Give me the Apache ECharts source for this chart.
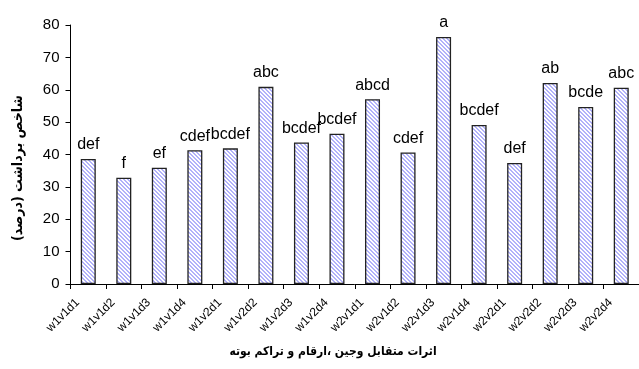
<!DOCTYPE html>
<html>
<head>
<meta charset="utf-8">
<script src="https://cdn.jsdelivr.net/npm/echarts@6/dist/echarts.min.js"></script>
<style>
  html, body { margin: 0; padding: 0; background: #fff; }
  #chart { width: 639px; height: 369px; }
</style>
</head>
<body>
<div id="chart"></div>
<script>
// Treatment combinations (weeding x cultivar x density)
const categories = [
  'w1v1d1', 'w1v1d2', 'w1v1d3', 'w1v1d4',
  'w1v2d1', 'w1v2d2', 'w1v2d3', 'w1v2d4',
  'w2v1d1', 'w2v1d2', 'w2v1d3', 'w2v1d4',
  'w2v2d1', 'w2v2d2', 'w2v2d3', 'w2v2d4'
];
// Harvest index (%)
const harvestIndex = [
  38.6, 32.8, 35.9, 41.3,
  41.9, 60.9, 43.7, 46.4,
  57.1, 40.6, 76.3, 49.1,
  37.4, 62.1, 54.7, 60.6
];
// Mean-separation letters shown above each bar
const letters = [
  'def', 'f', 'ef', 'cdef',
  'bcdef', 'abc', 'bcdef', 'bcdef',
  'abcd', 'cdef', 'a', 'bcdef',
  'def', 'ab', 'bcde', 'abc'
];
const yTicks = { min: 0, max: 80, interval: 10 };

const yTitle = 'شاخص برداشت (درصد)\u200F';
const xTitle = 'اثرات متقابل وجين ،ارقام و تراكم بوته';

// Diagonal hatch fill for the bars
function makeHatch() {
  const c = document.createElement('canvas');
  c.width = 4; c.height = 4;
  const g = c.getContext('2d');
  g.fillStyle = '#ffffff';
  g.fillRect(0, 0, 4, 4);
  g.fillStyle = '#b2b2fa';
  for (let i = 0; i < 4; i++) {
    g.fillRect(i, i, 1, 1);
    g.fillRect((i + 1) % 4, i, 1, 1);
  }
  return c;
}

const chart = echarts.init(document.getElementById('chart'), null, { renderer: 'canvas' });
const font = 'Liberation Sans, Arial, sans-serif';
const titleFont = '"DejaVu Sans Condensed", "DejaVu Sans", sans-serif';

chart.setOption({
  animation: false,
  backgroundColor: '#ffffff',
  grid: { left: 70.5, top: 25, width: 575, height: 259, containLabel: false },
  xAxis: {
    type: 'category',
    data: categories,
    axisLine: { lineStyle: { color: '#000', width: 1 } },
    axisTick: { show: true, length: 5, lineStyle: { color: '#000' } },
    axisLabel: {
      rotate: 45, fontSize: 12, color: '#000', fontFamily: font,
      margin: 6, interval: 0, padding: [0, 15, 0, 0]
    }
  },
  yAxis: {
    type: 'value',
    min: yTicks.min, max: yTicks.max, interval: yTicks.interval,
    splitLine: { show: false },
    axisLine: { show: true, lineStyle: { color: '#000', width: 1 } },
    axisTick: { show: true, length: 5, lineStyle: { color: '#000' } },
    axisLabel: { fontSize: 15, color: '#000', fontFamily: font, margin: 11 }
  },
  series: [{
    type: 'bar',
    data: harvestIndex,
    barWidth: 15,
    itemStyle: {
      color: { image: makeHatch(), repeat: 'repeat' },
      borderColor: '#222',
      borderWidth: 1.3
    },
    label: {
      show: true,
      position: 'top',
      distance: 6,
      fontSize: 16,
      color: '#000',
      fontFamily: font,
      formatter: p => letters[p.dataIndex]
    }
  }],
  graphic: [
    {
      type: 'text',
      x: 18, y: 168,
      rotation: Math.PI / 2,
      style: {
        text: yTitle,
        font: 'bold 14px ' + titleFont,
        fill: '#000',
        align: 'center',
        verticalAlign: 'middle'
      }
    },
    {
      type: 'text',
      x: 333, y: 352,
      style: {
        text: xTitle,
        font: 'bold 12px ' + titleFont,
        fill: '#000',
        align: 'center',
        verticalAlign: 'middle'
      }
    }
  ]
});
</script>
</body>
</html>
